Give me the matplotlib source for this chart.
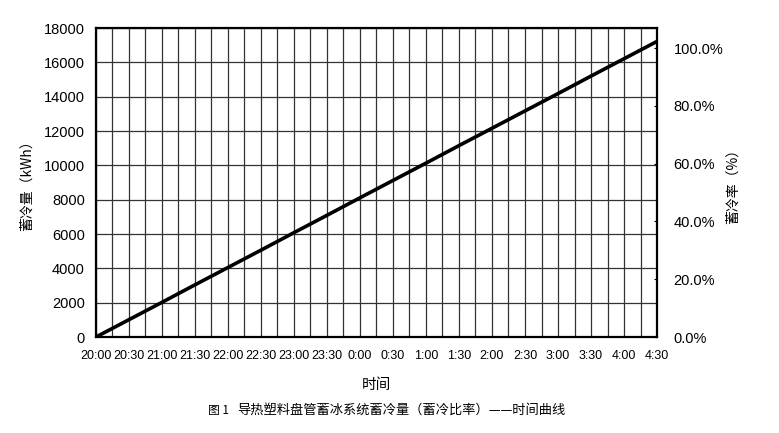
import numpy as np
import matplotlib.pyplot as plt
from matplotlib.ticker import MultipleLocator, FuncFormatter

plt.rcParams['font.family'] = ['Liberation Sans', 'Noto Sans CJK SC', 'DejaVu Sans']

# half-hour readings from 20:00 to 4:30
time_labels = ['20:00', '20:30', '21:00', '21:30', '22:00', '22:30', '23:00', '23:30',
               '0:00', '0:30', '1:00', '1:30', '2:00', '2:30', '3:00', '3:30', '4:00', '4:30']
hours = np.arange(len(time_labels)) * 0.5
storage_kwh = [0, 1010, 2020, 3040, 4050, 5060, 6080, 7090, 8110, 9120,
               10130, 11150, 12160, 13170, 14180, 15200, 16210, 17220]
left_ticks = list(range(0, 18001, 2000))
right_ticks = [0.0, 0.2, 0.4, 0.6, 0.8, 1.0]

cjk = ['Noto Sans CJK SC', 'DejaVu Sans']

fig = plt.figure(figsize=(7.79, 4.33), dpi=100)
ax = fig.add_axes([0.1232, 0.2217, 0.7202, 0.7136])

ax.plot(hours, storage_kwh, color='black', lw=2.6, solid_capstyle='butt', zorder=3)

ax.set_xlim(0, hours[-1])
ax.set_ylim(0, 18000)
ax.set_xticks(hours)
ax.set_xticklabels(time_labels, fontsize=9)
ax.xaxis.set_minor_locator(MultipleLocator(0.25))
ax.set_yticks(left_ticks)
ax.tick_params(axis='y', labelsize=10.5, length=0, pad=8)
ax.tick_params(axis='x', length=0, pad=9)
ax.tick_params(which='minor', length=0)
ax.grid(True, which='both', axis='x', color='#333333', lw=0.9)
ax.grid(True, which='major', axis='y', color='#333333', lw=0.9)
for s in ax.spines.values():
    s.set_linewidth(1.6)
    s.set_color('black')

ax.set_ylabel('蓄冷量（kWh）', fontsize=10, family=cjk, labelpad=7)
ax.set_xlabel('时间', fontsize=10.5, family=cjk, labelpad=12)

ax2 = ax.twinx()
ax2.set_ylim(0, 1.07)
ax2.set_yticks(right_ticks)
ax2.yaxis.set_major_formatter(FuncFormatter(lambda v, p: '%.1f%%' % (v * 100)))
ax2.tick_params(axis='y', labelsize=10.5, direction='in', length=2, pad=12)
for s in ax2.spines.values():
    s.set_visible(False)
ax2.set_ylabel('蓄冷率（%）', fontsize=10, family=cjk, rotation=90, labelpad=2)

fig.text(0.267, 0.053, '图 1', fontsize=8.5, family=cjk, va='center')
fig.text(0.304, 0.053, '导热塑料盘管蓄冰系统蓄冷量（蓄冷比率）——时间曲线', fontsize=9.5,
         family=cjk, va='center')

fig.savefig('out.png', dpi=100)
